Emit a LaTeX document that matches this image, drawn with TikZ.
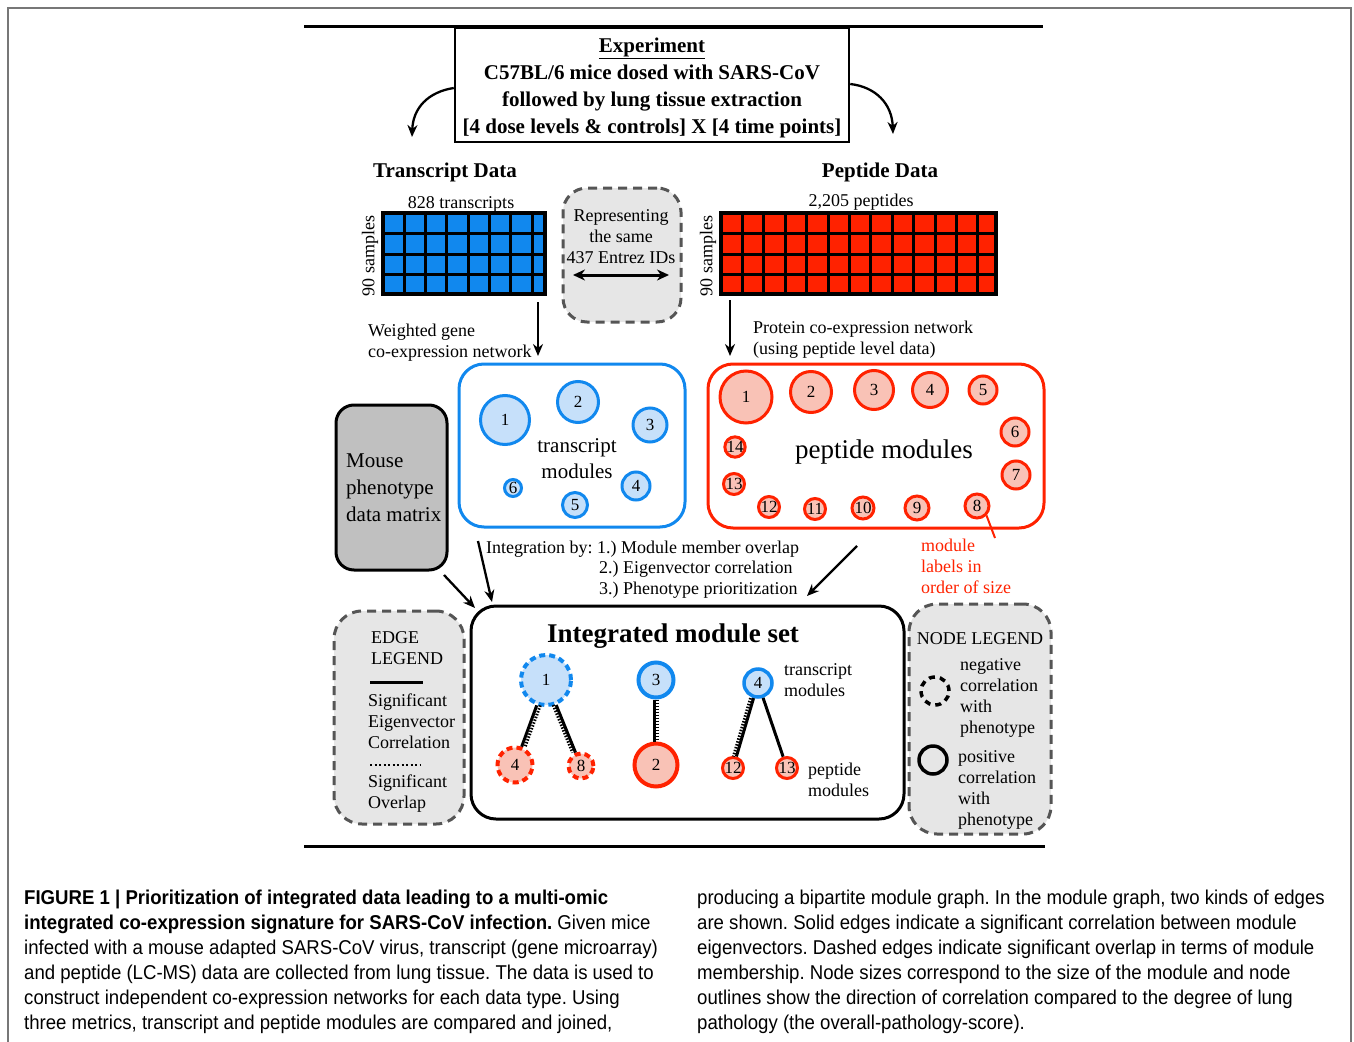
\documentclass[tikz,border=0pt]{standalone}
\usepackage{fontspec}
\setmainfont{Liberation Serif}
\newfontfamily\capfont[FakeStretch=0.93]{Liberation Sans}
\usetikzlibrary{arrows.meta,calc}
\definecolor{tblue}{HTML}{1188EE}
\definecolor{tlblue}{HTML}{C6E0FA}
\definecolor{pred}{HTML}{FF2200}
\definecolor{plred}{HTML}{F9C2B6}
\definecolor{lgray}{HTML}{E6E6E6}
\definecolor{dgray}{HTML}{555555}
\definecolor{mgray}{HTML}{C0C0C0}
\definecolor{fgray}{HTML}{777777}
\frenchspacing
\begin{document}
\begin{tikzpicture}[x=1pt,y=-1pt,
  sm/.style={font=\fontsize{18}{21}\selectfont, inner sep=0pt, yshift=-2pt},
  md/.style={font=\fontsize{21}{27}\selectfont, inner sep=0pt, yshift=-2pt},
  lg/.style={font=\fontsize{27}{30}\selectfont, inner sep=0pt, yshift=-2pt},
  captxt/.style={font=\capfont\fontsize{20}{25}\selectfont, inner sep=0pt, anchor=west, yshift=-1pt},
  arr/.style={-{Stealth[length=12pt,width=10pt]}, line width=2.3pt},
  dblarr/.style={{Stealth[length=12pt,width=11pt]}-{Stealth[length=12pt,width=11pt]}, line width=3pt},
  tmod/.style={circle, draw=tblue, fill=tlblue, line width=3pt, inner sep=0pt, font=\fontsize{17}{17}\selectfont},
  pmod/.style={circle, draw=pred, fill=plred, line width=3pt, inner sep=0pt, font=\fontsize{17}{17}\selectfont},
  negdash/.style={dash pattern=on 6pt off 4pt},
  legbox/.style={draw=dgray, fill=lgray, line width=3pt, dash pattern=on 9pt off 6pt, rounded corners=28pt},
  corr/.style={line width=3pt},
  overl/.style={line width=3pt, dash pattern=on 1.5pt off 1.5pt},
  rbox/.style={line width=3pt, rounded corners=25pt}
]
\useasboundingbox (0,0) rectangle (1354,1041);
% outer frame
\draw[fgray, line width=1.5pt] (8,1045) -- (8,8) -- (1351,8) -- (1351,1045);
% rules
\draw[line width=3pt] (304,27) -- (1043,27);
\draw[line width=3pt] (304,846) -- (1045,846);

% experiment box
\node[draw, line width=2.5pt, minimum width=394pt, minimum height=114pt, inner sep=0pt] (exp) at (652,85) {};
\node[md, font=\bfseries\fontsize{21}{27}\selectfont, align=center] (exptxt) at (652,86) {\underline{Experiment}\\C57BL/6 mice dosed with SARS-CoV\\followed by lung tissue extraction\\{}[4 dose levels \& controls] X [4 time points]};
\coordinate (el) at (412,137);
\coordinate (er) at (893,134);
\draw[arr] ([yshift=-3pt]exp.west) .. controls (428,92) and (413,108) .. (el);
\draw[arr] ([yshift=1pt]exp.east) .. controls (876,87) and (892,104) .. (er);

% titles
\node[md, font=\bfseries\fontsize{21}{27}\selectfont] (ttitle) at (445,170) {Transcript Data};
\node[md, font=\bfseries\fontsize{21}{27}\selectfont] (ptitle) at (880,170) {Peptide Data};
\node[sm] (tcount) at (461,202) {828 transcripts};
\node[sm] (pcount) at (861,200) {2,205 peptides};
\node[sm, rotate=90] (tsamp) at (370,254) {90 samples};
\node[sm, rotate=90] (psamp) at (708,254) {90 samples};

% blue grid
\node[inner sep=0pt, minimum width=162pt, minimum height=81pt, fill=tblue] (tgrid) at (464,253.5) {};
\foreach \xx in {404.3,425.6,446.9,468.2,489.5,510.8,532.1}
  \draw[line width=3pt] (\xx,213) -- (\xx,294);
\foreach \yy in {233.5,254,274}
  \draw[line width=3pt] (383,\yy) -- (545,\yy);
\draw[line width=3.5pt] (tgrid.north west) rectangle (tgrid.south east);

% red grid
\node[inner sep=0pt, minimum width=275pt, minimum height=81pt, fill=pred] (pgrid) at (858.5,253.5) {};
\foreach \k in {1,...,12}
  \draw[line width=3pt] ({721+21.4*\k},213) -- ({721+21.4*\k},294);
\foreach \yy in {233.5,254,274}
  \draw[line width=3pt] (721,\yy) -- (996,\yy);
\draw[line width=3.5pt] (pgrid.north west) rectangle (pgrid.south east);

% representing box
\node[legbox, rounded corners=24pt, minimum width=118pt, minimum height=134pt] (rep) at (622,255) {};
\node[sm, align=center] (reptxt) at (621,235) {Representing\\the same\\437 Entrez IDs};
\coordinate (ra) at (573,275);
\coordinate (rb) at (669,275);
\draw[dblarr] (ra) -- (rb);

% network arrows
\coordinate (ta1) at (538,302);
\coordinate (ta2) at (538,356);
\draw[arr] (ta1) -- (ta2);
\coordinate (pa1) at (730,300);
\coordinate (pa2) at (730,356);
\draw[arr] (pa1) -- (pa2);
\node[sm, anchor=west, align=left] (wgcn) at (368,341) {Weighted gene\\co-expression network};
\node[sm, anchor=west, align=left] (pcn) at (753,337.5) {Protein co-expression network\\(using peptide level data)};

% transcript modules box
\node[draw=tblue, rbox, minimum width=226pt, minimum height=163pt] (tbox) at (572,445.5) {};
\node[tmod, minimum size=49pt] (t1) at (505,420) {1};
\node[tmod, minimum size=41pt] (t2) at (578,402) {2};
\node[tmod, minimum size=34pt] (t3) at (650,425) {3};
\node[tmod, minimum size=28pt] (t4) at (636,486) {4};
\node[tmod, minimum size=25pt] (t5) at (575,505) {5};
\node[tmod, minimum size=17pt] (t6) at (513,488) {6};
\node[md, align=center, font=\fontsize{21}{26}\selectfont] (tmtxt) at (577,457) {transcript\\modules};

% peptide modules box
\node[draw=pred, rbox, minimum width=336pt, minimum height=164pt] (pbox) at (876,446) {};
\node[pmod, minimum size=52pt] (p1) at (746,397) {1};
\node[pmod, minimum size=41pt] (p2) at (811,392) {2};
\node[pmod, minimum size=39pt] (p3) at (874,390) {3};
\node[pmod, minimum size=35pt] (p4) at (930,390) {4};
\node[pmod, minimum size=28pt] (p5) at (983,390) {5};
\node[pmod, minimum size=28pt] (p6) at (1015,432) {6};
\node[pmod, minimum size=28pt] (p7) at (1016,475) {7};
\node[pmod, minimum size=24pt] (p8) at (977,506) {8};
\node[pmod, minimum size=24pt] (p9) at (917,508) {9};
\node[pmod, minimum size=22pt] (p10) at (863,508) {10};
\node[pmod, minimum size=21pt] (p11) at (815,509) {11};
\node[pmod, minimum size=21pt] (p12) at (769,507) {12};
\node[pmod, minimum size=21pt] (p13) at (734,484) {13};
\node[pmod, minimum size=19pt] (p14) at (735,447) {14};
\node[lg] (pmtxt) at (884,450) {peptide modules};
\coordinate (lblpt) at (995,538);
\draw[pred, line width=2pt] (p8.south east) -- (lblpt);
\node[sm, text=pred, anchor=west, align=left] (lbltxt) at (921,564.5) {module\\labels in\\order of size};

% mouse phenotype box
\node[draw, fill=mgray, line width=3pt, rounded corners=18pt, minimum width=111pt, minimum height=165pt] (mouse) at (391.5,487.5) {};
\node[md, anchor=west, align=left] (mousetxt) at (346,486) {Mouse\\phenotype\\data matrix};

% integration text
\node[sm, anchor=west] (int1) at (486,547) {Integration by: 1.) Module member overlap};
\node[sm, anchor=west] (int2) at (599,567.5) {2.) Eigenvector correlation};
\node[sm, anchor=west] (int3) at (599,588) {3.) Phenotype prioritization};

% integrated box
\node[draw, rbox, minimum width=433pt, minimum height=213pt] (ibox) at (687.5,712.5) {};
\node[lg, font=\bfseries\fontsize{27}{30}\selectfont] (ititle) at (673,634) {Integrated module set};

% arrows into integrated box
\coordinate (m1) at (444,575);
\coordinate (m2) at (475,608);
\draw[arr] (m1) -- (m2);
\coordinate (n1) at (478,541);
\coordinate (n2) at (492,602);
\draw[arr] (n1) -- (n2);
\coordinate (q1) at (857,546);
\coordinate (q2) at (807,596);
\draw[arr] (q1) -- (q2);

% integrated graph
\node[tmod, negdash, line width=4pt, minimum size=50pt] (it1) at (546,680) {1};
\node[tmod, line width=4pt, minimum size=35pt] (it3) at (656,680) {3};
\node[tmod, line width=3.5pt, minimum size=28pt] (it4) at (758,683) {4};
\node[pmod, negdash, line width=4pt, minimum size=35pt] (ip4) at (515,765) {4};
\node[pmod, negdash, line width=4pt, minimum size=25pt] (ip8) at (581,766) {8};
\node[pmod, line width=4pt, minimum size=43pt] (ip2) at (656,765) {2};
\node[pmod, line width=3pt, minimum size=21pt] (ip12) at (733,768) {12};
\node[pmod, line width=3pt, minimum size=21pt] (ip13) at (787,768) {13};
\draw[corr] (it1) -- (ip4);
\draw[overl, transform canvas={xshift=3.5pt}] (it1) -- (ip4);
\draw[corr] (it1) -- (ip8);
\draw[overl, transform canvas={xshift=-3pt}] (it1) -- (ip8);
\draw[corr, transform canvas={xshift=-1.5pt}] (it3) -- (ip2);
\draw[overl, transform canvas={xshift=1.5pt}] (it3) -- (ip2);
\draw[corr] (it4) -- (ip12);
\draw[overl, transform canvas={xshift=-3pt}] (it4) -- (ip12);
\draw[corr] (it4) -- (ip13);
\node[sm, anchor=west, align=left] (itlab) at (784,678.5) {transcript\\modules};
\node[sm, anchor=west, align=left] (iplab) at (808,777.5) {peptide\\modules};

% edge legend
\node[legbox, minimum width=130pt, minimum height=213pt] (eleg) at (399,717.5) {};
\node[sm, anchor=west, align=left] (elegt) at (371,646) {EDGE\\LEGEND};
\coordinate (es1) at (370,682);
\coordinate (es2) at (423,682);
\draw[line width=3pt] (es1) -- (es2);
\node[sm, anchor=west, align=left] (elegc) at (368,719) {Significant\\Eigenvector\\Correlation};
\coordinate (eo1) at (370,765);
\coordinate (eo2) at (420,765);
\draw[line width=2.5pt, dash pattern=on 2pt off 2.5pt] (eo1) -- (eo2);
\node[sm, anchor=west, align=left] (elego) at (368,791.5) {Significant\\Overlap};

% node legend
\node[legbox, minimum width=142pt, minimum height=230pt] (nleg) at (980,719) {};
\node[sm] (nlegt) at (980,637) {NODE LEGEND};
\node[circle, draw, line width=3.5pt, dash pattern=on 6pt off 5pt, minimum size=28pt, inner sep=0pt] (negc) at (935,691) {};
\node[sm, anchor=west, align=left] (negt) at (960,696) {negative\\correlation\\with\\phenotype};
\node[circle, draw, line width=3.5pt, minimum size=28pt, inner sep=0pt] (posc) at (933,760) {};
\node[sm, anchor=west, align=left] (post) at (958,788) {positive\\correlation\\with\\phenotype};

% caption
\node[captxt] (c1) at (24,898) {\bfseries FIGURE 1 | Prioritization of integrated data leading to a multi-omic};
\node[captxt] (c2) at (24,923) {\textbf{integrated co-expression signature for SARS-CoV infection.} Given mice};
\node[captxt] (c3) at (24,948) {infected with a mouse adapted SARS-CoV virus, transcript (gene microarray)};
\node[captxt] (c4) at (24,973) {and peptide (LC-MS) data are collected from lung tissue. The data is used to};
\node[captxt] (c5) at (24,998) {construct independent co-expression networks for each data type. Using};
\node[captxt] (c6) at (24,1023) {three metrics, transcript and peptide modules are compared and joined,};
\node[captxt] (d1) at (697,898) {producing a bipartite module graph. In the module graph, two kinds of edges};
\node[captxt] (d2) at (697,923) {are shown. Solid edges indicate a significant correlation between module};
\node[captxt] (d3) at (697,948) {eigenvectors. Dashed edges indicate significant overlap in terms of module};
\node[captxt] (d4) at (697,973) {membership. Node sizes correspond to the size of the module and node};
\node[captxt] (d5) at (697,998) {outlines show the direction of correlation compared to the degree of lung};
\node[captxt] (d6) at (697,1023) {pathology (the overall-pathology-score).};
\end{tikzpicture}
\end{document}
